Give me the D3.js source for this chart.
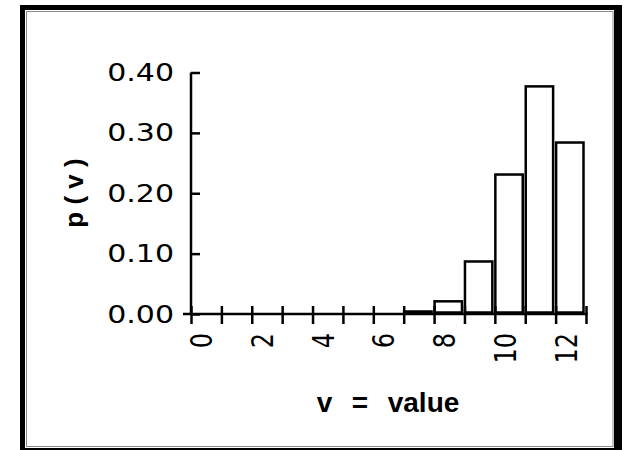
<!DOCTYPE html>
<html>
<head>
<meta charset="utf-8">
<script src="https://cdn.jsdelivr.net/npm/d3@7"></script>
<style>
  body { margin: 0; background: #fff; }
  svg { display: block; }
</style>
</head>
<body>
<div id="chart"></div>
<script>

// Chart values
var values = [0, 1, 2, 3, 4, 5, 6, 7, 8, 9, 10, 11, 12];
var probs = [0, 0, 0, 0, 0, 0, 0, 0.004, 0.021, 0.087, 0.231, 0.377, 0.284];
var xTickValues = [0, 1, 2, 3, 4, 5, 6, 7, 8, 9, 10, 11, 12, 13];
var xTickLabels = [0, 2, 4, 6, 8, 10, 12];
var yTickValues = [0, 0.1, 0.2, 0.3, 0.4];

var data = values.map(function(v, i) { return { v: v, p: probs[i] }; });

var W = 626, H = 450;
var svg = d3.select("#chart").append("svg")
    .attr("width", W)
    .attr("height", H);

// Frame: black outer border, white panel with a thin grey line
svg.append("rect").attr("x", 20).attr("y", 5).attr("width", 602).attr("height", 450)
    .attr("fill", "#000");
svg.append("rect").attr("x", 25).attr("y", 10).attr("width", 589).attr("height", 438)
    .attr("fill", "#fff");
svg.append("rect").attr("x", 26.5).attr("y", 11.5).attr("width", 586.5).attr("height", 435)
    .attr("fill", "none").attr("stroke", "#8a8a8a").attr("stroke-width", 1);

// Scales
var x = d3.scaleLinear().domain([0, 13]).range([191, 586]);
var y = d3.scaleLinear().domain([0, 0.4]).range([314, 72.5]);

var stretch = 1.25; // number font looks horizontally stretched

// Bars (skip zero ones); bottoms sit just above the axis line
svg.append("g").selectAll("rect")
    .data(data.filter(function(d) { return d.p > 0; }))
    .enter().append("rect")
    .attr("x", function(d) { return x(d.v) + 0.5; })
    .attr("y", function(d) { return Math.min(y(d.p), y(0) - 2.5); })
    .attr("width", function(d) { return x(d.v + 1) - x(d.v) - 3; })
    .attr("height", function(d) { return Math.max(1, y(0) - 1.5 - y(d.p)); })
    .attr("fill", "#fff")
    .attr("stroke", "#000")
    .attr("stroke-width", 2.5);

// Y axis
var yAxis = svg.append("g")
    .attr("transform", "translate(" + x(0) + ",0)")
    .call(d3.axisLeft(y).tickValues(yTickValues).tickSizeInner(8).tickSizeOuter(0).tickFormat(""));
yAxis.select(".domain").remove();
yAxis.selectAll(".tick line").attr("x2", 9).attr("stroke-width", 2.5);
yAxis.append("line")
    .attr("x1", 0).attr("x2", 0)
    .attr("y1", y(0.4)).attr("y2", y(0))
    .attr("stroke", "#000").attr("stroke-width", 2.5);

svg.append("g").selectAll("text")
    .data(yTickValues)
    .enter().append("text")
    .attr("transform", function(d) {
        return "translate(174," + (y(d) + 8.5) + ") scale(" + stretch + ",1)";
    })
    .attr("text-anchor", "end")
    .style("font-family", "DejaVu Sans")
    .style("font-size", "24px")
    .text(d3.format(".2f"));

// X axis
var xAxis = svg.append("g")
    .attr("transform", "translate(0," + y(0) + ")")
    .call(d3.axisBottom(x).tickValues(xTickValues).tickSizeInner(10).tickSizeOuter(0).tickFormat(""));
xAxis.select(".domain").remove();
xAxis.selectAll(".tick line").attr("y1", -8).attr("stroke-width", 2.5);
xAxis.append("line")
    .attr("x1", x(0) - 8).attr("x2", x(13) + 1.5)
    .attr("y1", 0).attr("y2", 0)
    .attr("stroke", "#000").attr("stroke-width", 2.5);

svg.append("g").selectAll("text")
    .data(xTickLabels)
    .enter().append("text")
    .attr("transform", function(d) {
        return "translate(" + (x(d) + 21) + ",333) scale(" + stretch + ",1) rotate(-90)";
    })
    .attr("text-anchor", "end")
    .style("font-family", "DejaVu Sans")
    .style("font-size", "24px")
    .text(function(d) { return d; });

// Axis titles
svg.append("text")
    .attr("transform", "translate(83,193) rotate(-90)")
    .attr("text-anchor", "middle")
    .style("font-family", "Liberation Sans")
    .style("font-weight", "bold")
    .style("font-size", "26px")
    .style("white-space", "pre")
    .text("p ( v )");

svg.append("text")
    .attr("x", 388)
    .attr("y", 412)
    .attr("text-anchor", "middle")
    .style("font-family", "Liberation Sans")
    .style("font-weight", "bold")
    .style("font-size", "28px")
    .style("word-spacing", "2px")
    .style("white-space", "pre")
    .text("v  =  value");

</script>
</body>
</html>
